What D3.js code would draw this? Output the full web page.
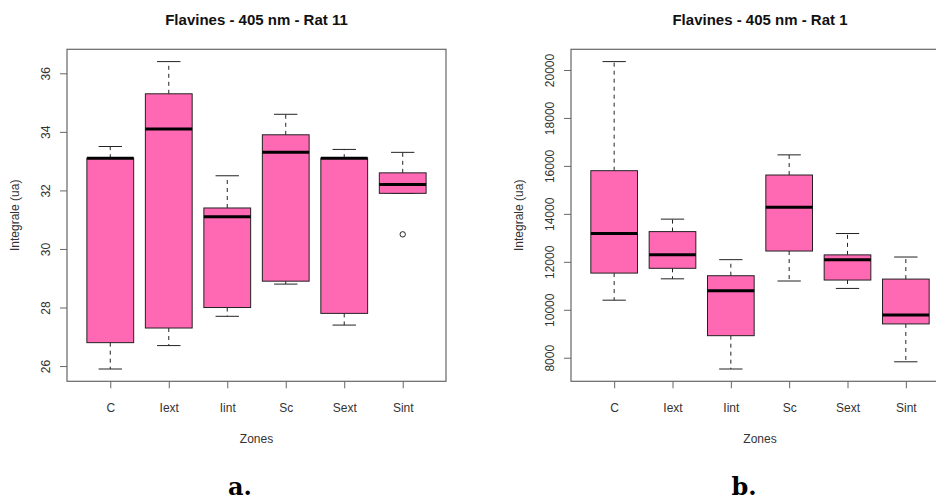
<!DOCTYPE html>
<html>
<head>
<meta charset="utf-8">
<script src="https://cdn.jsdelivr.net/npm/d3@7"></script>
<style>
  html, body { margin: 0; padding: 0; background: #fff; }
  svg { display: block; }
</style>
</head>
<body>
<svg id="chart" width="936" height="500" font-family="'Liberation Sans', Arial, sans-serif"></svg>
<script>
// ---- Data ----
const zones = ["C", "Iext", "Iint", "Sc", "Sext", "Sint"];

// Rat 11 : [min whisker, Q1, median, Q3, max whisker]
const rat11Min    = [25.9, 26.7, 27.7, 28.8, 27.4, 31.9];
const rat11Q1     = [26.8, 27.3, 28.0, 28.9, 27.8, 31.9];
const rat11Median = [33.1, 34.1, 31.1, 33.3, 33.1, 32.2];
const rat11Q3     = [33.1, 35.3, 31.4, 33.9, 33.1, 32.6];
const rat11Max    = [33.5, 36.4, 32.5, 34.6, 33.4, 33.3];
const rat11Outliers = [{zone: "Sint", value: 30.5}];
const rat11Ticks = [26, 28, 30, 32, 34, 36];

// Rat 1
const rat1Min    = [10400, 11290, 7530, 11200, 10890, 7830];
const rat1Q1     = [11530, 11730, 8920, 12450, 11240, 9410];
const rat1Median = [13180, 12300, 10790, 14280, 12090, 9780];
const rat1Q3     = [15800, 13260, 11420, 15620, 12290, 11280];
const rat1Max    = [20350, 13780, 12090, 16460, 13180, 12200];
const rat1Outliers = [];
const rat1Ticks = [8000, 10000, 12000, 14000, 16000, 18000, 20000];

const svg = d3.select("#chart");
const FILL = "#FF69B4";
const SANS = "'Liberation Sans', Arial, sans-serif";

function panel(opts) {
  const {x0, x1, y0, y1, title, mins, q1s, meds, q3s, maxs, outliers, ticks, sub, subX} = opts;
  const stats = zones.map((z, i) => ({zone: z, min: mins[i], q1: q1s[i], med: meds[i], q3: q3s[i], max: maxs[i]}));
  const allVals = mins.concat(maxs, outliers.map(o => o.value));
  const [lo, hi] = d3.extent(allVals);
  const pad = (hi - lo) * 0.04;
  const y = d3.scaleLinear().domain([lo - pad, hi + pad]).range([y1, y0]);
  const x = d3.scalePoint().domain(zones).range([x0, x1]).padding(0.74);
  const step = x.step();
  const bw = step * 0.8, cw = step * 0.4;

  const g = svg.append("g");

  const b = g.selectAll("g.box").data(stats).enter().append("g").attr("class", "box");
  // whiskers (dashed)
  b.append("line")
    .attr("x1", d => x(d.zone)).attr("x2", d => x(d.zone))
    .attr("y1", d => y(d.q3)).attr("y2", d => y(d.max))
    .attr("stroke", "#222").attr("stroke-width", 1).attr("stroke-dasharray", "4,4");
  b.append("line")
    .attr("x1", d => x(d.zone)).attr("x2", d => x(d.zone))
    .attr("y1", d => y(d.q1)).attr("y2", d => y(d.min))
    .attr("stroke", "#222").attr("stroke-width", 1).attr("stroke-dasharray", "4,4");
  // caps
  b.append("line")
    .attr("x1", d => x(d.zone) - cw / 2).attr("x2", d => x(d.zone) + cw / 2)
    .attr("y1", d => y(d.max)).attr("y2", d => y(d.max))
    .attr("stroke", "#222").attr("stroke-width", 1);
  b.append("line")
    .attr("x1", d => x(d.zone) - cw / 2).attr("x2", d => x(d.zone) + cw / 2)
    .attr("y1", d => y(d.min)).attr("y2", d => y(d.min))
    .attr("stroke", "#222").attr("stroke-width", 1);
  // box
  b.append("rect")
    .attr("x", d => x(d.zone) - bw / 2).attr("width", bw)
    .attr("y", d => y(d.q3)).attr("height", d => Math.max(0.5, y(d.q1) - y(d.q3)))
    .attr("fill", FILL).attr("stroke", "#222").attr("stroke-width", 1);
  // median
  b.append("line")
    .attr("x1", d => x(d.zone) - bw / 2).attr("x2", d => x(d.zone) + bw / 2)
    .attr("y1", d => y(d.med)).attr("y2", d => y(d.med))
    .attr("stroke", "#000").attr("stroke-width", 3);

  // outliers
  g.selectAll("circle.out").data(outliers).enter().append("circle")
    .attr("class", "out")
    .attr("cx", d => x(d.zone)).attr("cy", d => y(d.value)).attr("r", 2.7)
    .attr("fill", "none").attr("stroke", "#222").attr("stroke-width", 1);

  // frame
  g.append("rect").attr("x", x0).attr("y", y0).attr("width", x1 - x0).attr("height", y1 - y0)
    .attr("fill", "none").attr("stroke", "#666").attr("stroke-width", 1.2);

  // y axis
  const ya = g.append("g").attr("transform", `translate(${x0},0)`)
    .call(d3.axisLeft(y).tickValues(ticks).tickSize(7).tickFormat(d3.format("d")));
  ya.select(".domain").remove();
  ya.selectAll("line").attr("stroke", "#666");
  ya.selectAll("text")
    .attr("x", 0).attr("y", -17).attr("dy", 0)
    .attr("transform", "rotate(-90)")
    .attr("text-anchor", "middle")
    .attr("font-size", 12).attr("fill", "#333")
    .attr("font-family", SANS);

  // x axis
  const xa = g.append("g").attr("transform", `translate(0,${y1})`)
    .call(d3.axisBottom(x).tickSize(7));
  xa.select(".domain").remove();
  xa.selectAll("line").attr("stroke", "#666");
  xa.selectAll("text")
    .attr("y", 30.5).attr("dy", 0)
    .attr("font-size", 12).attr("fill", "#333")
    .attr("font-family", SANS);

  // labels
  g.append("text").attr("x", (x0 + x1) / 2).attr("y", 25)
    .attr("text-anchor", "middle").attr("font-weight", "bold").attr("font-size", 15)
    .attr("fill", "#111").text(title);
  g.append("text").attr("x", (x0 + x1) / 2).attr("y", 442.5)
    .attr("text-anchor", "middle").attr("font-size", 12).attr("fill", "#333").text("Zones");
  g.append("text")
    .attr("transform", `translate(${x0 - 48},${(y0 + y1) / 2}) rotate(-90)`)
    .attr("text-anchor", "middle").attr("font-size", 12).attr("fill", "#333").text("Integrale (ua)");
  g.append("text").attr("x", subX).attr("y", 495)
    .attr("text-anchor", "middle")
    .style("font-family", "'DejaVu Serif', 'Liberation Serif', serif")
    .style("font-weight", "bold").style("font-size", "24px")
    .attr("fill", "#000").text(sub);
}

panel({x0: 67, x1: 446, y0: 49.3, y1: 381.3, title: "Flavines - 405 nm - Rat 11",
  mins: rat11Min, q1s: rat11Q1, meds: rat11Median, q3s: rat11Q3, maxs: rat11Max,
  outliers: rat11Outliers, ticks: rat11Ticks, sub: "a.", subX: 240});
panel({x0: 571, x1: 949, y0: 49.3, y1: 381.3, title: "Flavines - 405 nm - Rat 1",
  mins: rat1Min, q1s: rat1Q1, meds: rat1Median, q3s: rat1Q3, maxs: rat1Max,
  outliers: rat1Outliers, ticks: rat1Ticks, sub: "b.", subX: 744});
</script>
</body>
</html>
